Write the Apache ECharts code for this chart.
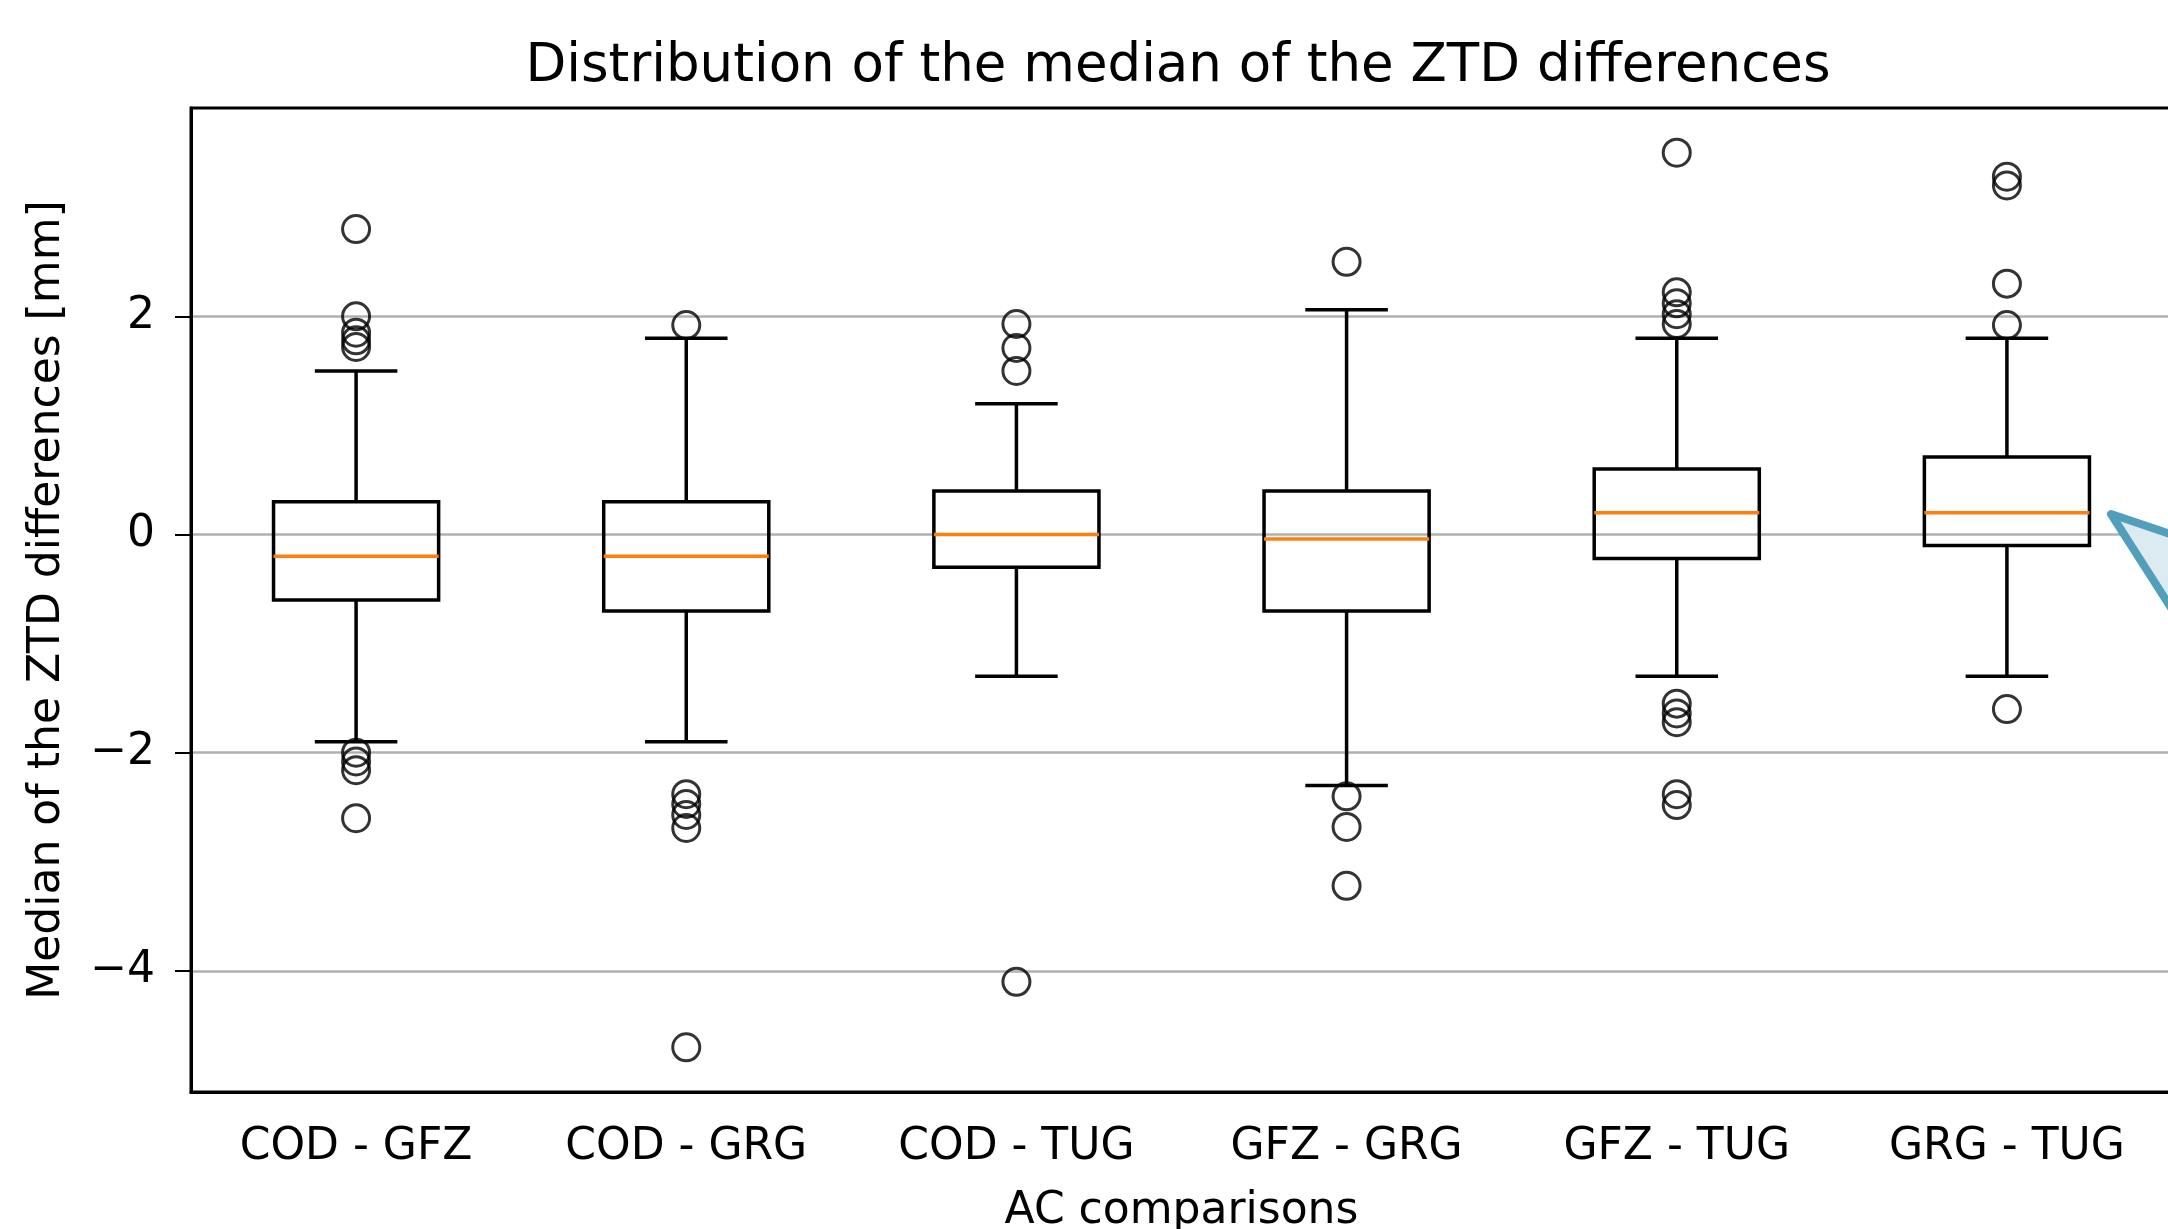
<html>
  <head>
    <script src="https://cdn.jsdelivr.net/npm/echarts@6.0.0/dist/echarts.min.js"></script>
    <title>Distribution of the median of the ZTD differences</title>
  </head>
  <body style="margin:0; background-color:#ffffff;">
    <div id="chart" style="width:2168px; height:1229px;"></div>
    <script>
      // values (mm)
      const categories = ['COD - GFZ', 'COD - GRG', 'COD - TUG', 'GFZ - GRG', 'GFZ - TUG', 'GRG - TUG'];
      const whiskerLow = [-1.9, -1.9, -1.3, -2.3, -1.3, -1.3];
      const q1 = [-0.6, -0.7, -0.3, -0.7, -0.22, -0.1];
      const median = [-0.2, -0.2, 0, -0.04, 0.2, 0.2];
      const q3 = [0.3, 0.3, 0.4, 0.4, 0.6, 0.71];
      const whiskerHigh = [1.5, 1.8, 1.2, 2.06, 1.8, 1.8];
      const outliers = [
        [2.8, 2.0, 1.85, 1.78, 1.72, -2.0, -2.08, -2.16, -2.6],
        [1.92, -2.38, -2.47, -2.57, -2.69, -4.7],
        [1.93, 1.71, 1.5, -4.1],
        [2.5, -2.4, -2.68, -3.22],
        [3.5, 2.22, 2.12, 2.02, 1.93, -1.55, -1.64, -1.72, -2.38, -2.48],
        [3.28, 3.2, 2.3, 1.92, -1.6]
      ];
      const yTicks = [-4, -2, 0, 2];

      const font = 'DejaVu Sans';
      const boxData = categories.map((c, i) => [i, whiskerLow[i], q1[i], median[i], q3[i], whiskerHigh[i]]);
      const flierData = [];
      outliers.forEach((list, i) => list.forEach(v => flierData.push([i, v])));

      const chart = echarts.init(document.getElementById('chart'));

      const lineW = 3.5;
      function renderBox(params, api) {
        const i = api.value(0);
        const band = api.size([1, 0])[0];
        const half = band * 0.25;
        const cap = band * 0.125;
        const pLow = api.coord([i, api.value(1)]);
        const pQ1 = api.coord([i, api.value(2)]);
        const pMed = api.coord([i, api.value(3)]);
        const pQ3 = api.coord([i, api.value(4)]);
        const pHigh = api.coord([i, api.value(5)]);
        const x = pMed[0];
        const black = { stroke: '#000', lineWidth: lineW, fill: null };
        return {
          type: 'group',
          children: [
            { type: 'line', shape: { x1: x, y1: pQ1[1], x2: x, y2: pLow[1] }, style: black },
            { type: 'line', shape: { x1: x, y1: pQ3[1], x2: x, y2: pHigh[1] }, style: black },
            { type: 'line', shape: { x1: x - cap, y1: pLow[1], x2: x + cap, y2: pLow[1] }, style: black },
            { type: 'line', shape: { x1: x - cap, y1: pHigh[1], x2: x + cap, y2: pHigh[1] }, style: black },
            { type: 'rect', shape: { x: x - half, y: pQ3[1], width: half * 2, height: pQ1[1] - pQ3[1] }, style: black },
            { type: 'line', shape: { x1: x - half, y1: pMed[1], x2: x + half, y2: pMed[1] }, style: { stroke: '#ff7f0e', lineWidth: lineW } }
          ]
        };
      }

      const option = {
        animation: false,
        backgroundColor: '#ffffff',
        textStyle: { fontFamily: font, color: '#000' },
        title: {
          text: 'Distribution of the median of the ZTD differences',
          left: 1173,
          top: 10,
          textAlign: 'center',
          textStyle: { fontFamily: font, fontSize: 53, fontWeight: 'normal', color: '#000' }
        },
        grid: {
          left: 191,
          top: 108,
          right: -4,
          bottom: 137,
          outerBoundsMode: 'none',
          show: true,
          borderColor: '#000',
          borderWidth: 3,
          backgroundColor: 'transparent'
        },
        xAxis: {
          type: 'category',
          data: categories,
          boundaryGap: true,
          name: 'AC comparisons',
          nameLocation: 'middle',
          nameGap: 76,
          nameMoveOverlap: false,
          nameTextStyle: { fontFamily: font, fontSize: 44, color: '#000' },
          axisLine: { onZero: false, lineStyle: { color: '#000', width: 3 } },
          axisTick: { alignWithLabel: true, length: 16, lineStyle: { color: '#000', width: 2 } },
          axisLabel: { fontFamily: font, fontSize: 44, color: '#000', margin: 12 },
          splitLine: { show: false }
        },
        yAxis: {
          type: 'value',
          min: -5.11,
          max: 3.91,
          name: 'Median of the ZTD differences [mm]',
          nameLocation: 'middle',
          nameGap: 100,
          nameMoveOverlap: false,
          nameTextStyle: { fontFamily: font, fontSize: 44, color: '#000' },
          axisLine: { show: true, onZero: false, lineStyle: { color: '#000', width: 3 } },
          axisTick: { show: true, length: 16, customValues: yTicks, lineStyle: { color: '#000', width: 2 } },
          axisLabel: {
            fontFamily: font, fontSize: 44, color: '#000', margin: 36, customValues: yTicks,
            formatter: v => String(v).replace('-', '\u2212')
          },
          splitLine: { show: true, lineStyle: { color: '#b0b0b0', width: 2.5 } }
        },
        series: [
          {
            type: 'custom',
            renderItem: renderBox,
            encode: { x: 0, y: [1, 2, 3, 4, 5] },
            data: boxData,
            z: 2
          },
          {
            type: 'scatter',
            data: flierData,
            symbol: 'circle',
            symbolSize: 27,
            itemStyle: { color: 'rgba(0,0,0,0)', borderColor: '#000', borderWidth: 3 },
            z: 3
          }
        ],
        graphic: [
          {
            type: 'polygon',
            shape: { points: [[2111, 514], [2230, 554], [2230, 700]] },
            style: { fill: '#dcebf1', stroke: '#519fba', lineWidth: 8, lineJoin: 'round' },
            z: 10
          }
        ]
      };

      chart.setOption(option);
    </script>
  </body>
</html>
